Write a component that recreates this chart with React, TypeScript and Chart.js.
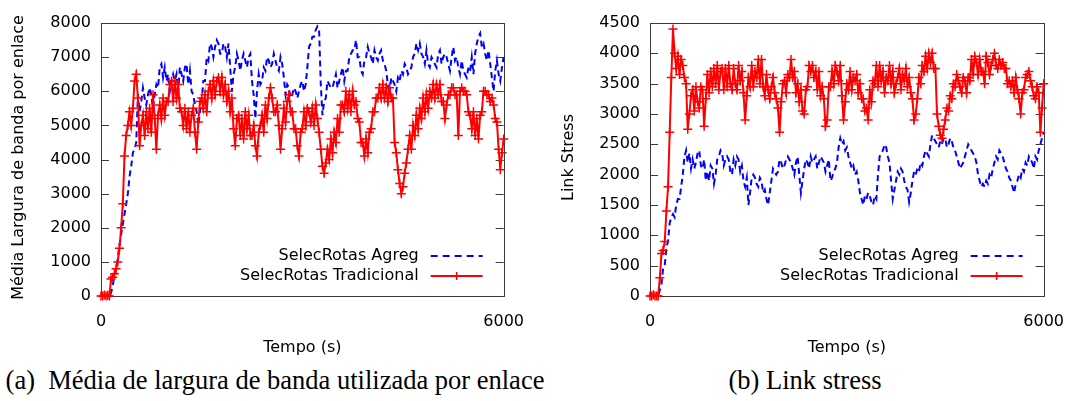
import React, { useEffect, useRef } from 'react';
import { Chart, registerables } from 'chart.js';

Chart.register(...registerables);

// Time axis (s), one sample every 25 s from 0 to 6000
const TIME_S: number[] = Array.from({ length: 241 }, (_, i) => i * 25);

// (a) Média largura de banda por enlace
const BW_AGREG: number[] = [
  0, 0, 0, 0, 0, 0, 100, 300, 600, 800,
  1100, 1500, 1800, 2100, 2400, 2700, 3000, 3500, 3800, 4200,
  4300, 4500, 5900, 5400, 5700, 6100, 5800, 5600, 5900, 6100,
  5900, 5500, 5900, 6200, 6100, 6700, 6800, 6400, 6700, 6300,
  6500, 6000, 6300, 6500, 6300, 6500, 6000, 6700, 6500, 6300,
  6700, 6800, 6200, 6600, 6000, 5900, 5600, 5400, 5000, 5400,
  5700, 6300, 6300, 7000, 6900, 7400, 7300, 7000, 7300, 7500,
  7400, 7100, 7100, 7400, 7300, 7000, 7400, 6700, 6000, 6500,
  6700, 7100, 6900, 6600, 6900, 7100, 6900, 6700, 7000, 7100,
  6300, 5900, 5200, 6000, 6500, 6200, 6300, 6700, 6600, 7000,
  6900, 6700, 6800, 7100, 6900, 6700, 6600, 7000, 6800, 6400,
  5900, 6200, 6100, 5800, 5900, 6100, 6000, 5800, 6000, 6200,
  6300, 6000, 6200, 6700, 7300, 7400, 7600, 7600, 7800, 7900,
  7800, 6200, 5300, 5700, 5800, 6300, 6200, 6100, 6100, 6300,
  6500, 6100, 6300, 6500, 6700, 6300, 6600, 6600, 7000, 7100,
  7200, 7200, 7500, 7000, 7000, 6600, 6500, 6900, 7000, 7300,
  7100, 7000, 6800, 7200, 7000, 6900, 7100, 7200, 6900, 6800,
  6600, 6200, 5900, 6400, 6300, 6200, 6000, 6400, 6300, 6600,
  6500, 6800, 6700, 6500, 6600, 6700, 7000, 7100, 7400, 7200,
  7400, 7100, 7000, 6800, 7200, 6800, 6700, 7000, 6900, 6800,
  6700, 7100, 7200, 6800, 7000, 7100, 7000, 6800, 6600, 7000,
  7300, 6900, 7000, 6700, 6500, 6900, 6600, 6500, 6400, 6700,
  6600, 7000, 6500, 7100, 7400, 7600, 7700, 7300, 7400, 7100,
  6900, 7200, 6800, 6400, 6000, 6600, 6900, 6500, 6300, 6700,
  7000,
];
const BW_TRAD: number[] = [
  0, 0, 30, 0, 20, 0, 500, 550, 650, 800,
  1000, 1400, 2000, 2700, 4100, 4700, 5000, 5400, 5000, 5500,
  6300, 6500, 5800, 4400, 5000, 5300, 4700, 5400, 4900, 5500,
  4800, 5900, 5200, 4300, 5300, 5600, 5200, 5800, 5300, 5700,
  5700, 6200, 6300, 5700, 6300, 5800, 6200, 5500, 5400, 5000,
  5500, 4900, 5400, 4800, 5300, 5500, 4800, 4300, 5100, 5700,
  5800, 5500, 5900, 5400, 6000, 6200, 5800, 6300, 5900, 6300,
  6400, 6000, 6400, 5900, 6200, 5700, 6000, 5400, 5800, 4900,
  4400, 5200, 5300, 4700, 5200, 4600, 5400, 4900, 5300, 4700,
  4700, 5000, 4400, 4100, 4800, 5000, 5300, 4800, 5600, 5200,
  5800, 6100, 5800, 5400, 5400, 5600, 5000, 4300, 4900, 5500,
  5100, 5700, 5900, 5400, 5400, 4900, 4900, 4400, 4100, 4800,
  4900, 5400, 5000, 5500, 5400, 5100, 5500, 5000, 5600, 5200,
  4800, 4300, 3800, 3600, 3900, 4300, 4000, 4600, 4200, 4800,
  4500, 5200, 4800, 5600, 5600, 5400, 6000, 5500, 5900, 5400,
  6000, 5600, 5700, 5200, 5100, 4500, 4500, 4100, 4600, 4200,
  4800, 4900, 5400, 5400, 5800, 5800, 6100, 5800, 6200, 5800,
  6100, 5700, 6100, 5800, 5800, 4500, 4200, 3700, 3300, 3000,
  3200, 3600, 3900, 4300, 4700, 4300, 5000, 4700, 5300, 4900,
  5500, 5200, 5800, 5400, 5900, 5500, 6000, 5800, 6200, 5800,
  6200, 5900, 6200, 5700, 5700, 5200, 5600, 5900, 5900, 6100,
  6100, 5900, 5900, 4700, 6000, 6100, 6000, 6000, 5900, 5400,
  5300, 4900, 5400, 4700, 5200, 4600, 5300, 5400, 6000, 6000,
  5900, 5900, 5700, 5800, 5600, 5200, 5100, 4300, 3700, 4200,
  4600,
];

// (b) Link stress
const LS_AGREG: number[] = [
  0, 0, 0, 0, 0, 0, 100, 200, 450, 500,
  800, 900, 1200, 1300, 1350, 1300, 1500, 1600, 1600, 1800,
  2000, 2300, 2400, 2200, 2350, 2100, 2250, 2100, 2200, 2350,
  2400, 2150, 2100, 2250, 1900, 2050, 1900, 2150, 2100, 1850,
  2000, 2250, 2300, 2400, 2350, 2150, 2250, 2300, 2250, 2050,
  2000, 2250, 2150, 2300, 2250, 2050, 2150, 1900, 1800, 1950,
  1500, 1700, 1950, 2000, 1950, 1850, 1800, 1950, 1900, 1700,
  1750, 1600, 1500, 1700, 1900, 2100, 2050, 2000, 2050, 2250,
  2200, 2100, 2150, 2250, 2300, 2250, 2200, 2100, 2000, 2200,
  2300, 2000, 1700, 1900, 2100, 2250, 2200, 2100, 2300, 2200,
  2250, 2300, 2100, 2200, 2300, 2250, 2200, 2050, 2150, 2250,
  1900, 1950, 2050, 2100, 2200, 2450, 2600, 2500, 2550, 2400,
  2450, 2300, 2200, 2100, 2150, 2000, 2050, 1900, 1700, 1600,
  1500, 1650, 1600, 1700, 1650, 1550, 1500, 1650, 1600, 2000,
  2300, 2350, 2400, 2500, 2450, 2300, 2200, 1900, 1600, 1750,
  1900, 2050, 2000, 2100, 2050, 1900, 1800, 1750, 1550, 1700,
  1900, 2050, 2000, 2100, 2050, 2200, 2150, 2300, 2400, 2350,
  2300, 2500, 2650, 2600, 2550, 2500, 2450, 2550, 2500, 2600,
  2600, 2450, 2500, 2600, 2550, 2450, 2400, 2300, 2200, 2100,
  2150, 2200, 2300, 2400, 2500, 2450, 2400, 2350, 2300, 2200,
  2000, 1900, 1800, 1850, 1800, 1900, 1850, 2000, 1950, 2100,
  2200, 2300, 2250, 2400, 2350, 2300, 2200, 2100, 2050, 1950,
  1900, 1800, 1700, 1850, 1900, 2000, 1950, 2100, 2050, 2200,
  2150, 2300, 2250, 2200, 2100, 2300, 2250, 2400, 2500, 2600,
  2700,
];
const LS_TRAD: number[] = [
  0, 0, 20, 0, 0, 0, 300, 700, 750, 900,
  1400, 1800, 2700, 3600, 4400, 4000, 3750, 3950, 3650, 3900,
  3800, 3600, 3500, 2750, 3000, 3300, 3400, 3050, 3450, 3200,
  3100, 3450, 3400, 2800, 3250, 3650, 3350, 3700, 3450, 3750,
  3500, 3800, 3400, 3700, 3750, 3400, 3750, 3450, 3800, 3500,
  3400, 3750, 3500, 3400, 3800, 3550, 3700, 3350, 2900, 3300,
  3600, 3450, 3800, 3450, 3700, 3600, 3900, 3500, 3900, 3450,
  3300, 3650, 3400, 3250, 3450, 3600, 3350, 3250, 3100, 2700,
  3200, 3500, 3550, 3350, 3650, 3600, 3900, 3600, 3700, 3350,
  3500, 3200, 3400, 3050, 3000, 3400, 3450, 3800, 3700, 3800,
  3600, 3700, 3400, 3700, 3300, 3450, 3250, 2800, 2900, 3450,
  3450, 3700, 3500, 3800, 3700, 3550, 3800, 3300, 2900, 3200,
  3500, 3400, 3700, 3400, 3600, 3550, 3650, 3350, 3500, 3250,
  3250, 3050, 3100, 2900, 3400, 3200, 3550, 3500, 3800, 3450,
  3800, 3550, 3700, 3350, 3600, 3550, 3800, 3500, 3700, 3350,
  3500, 3600, 3750, 3400, 3650, 3550, 3750, 3450, 3600, 3350,
  3250, 2900, 3000, 3250, 3600, 3500, 3800, 3700, 3950, 3750,
  4000, 3850, 4000, 3750, 3750, 3000, 2800, 2650, 2600, 2750,
  2900, 3100, 3050, 3300, 3250, 3500, 3450, 3650, 3550, 3450,
  3350, 3600, 3550, 3350, 3600, 3550, 3900, 3650, 3950, 3850,
  3650, 3900, 3700, 3700, 3500, 3950, 3850, 3650, 3800, 3900,
  4000, 3800, 3750, 3900, 3800, 3850, 3750, 3750, 3500, 3550,
  3450, 3550, 3350, 3600, 3400, 3250, 3000, 3350, 3400, 3600,
  3650, 3700, 3550, 3450, 3300, 3250, 3450, 3350, 2700, 3100,
  3500,
];

const X_TICKS: number[] = [0, 6000];
const SERIES_NAMES: string[] = ['SelecRotas Agreg', 'SelecRotas Tradicional'];

const SANS = '"DejaVu Sans", sans-serif';
const FONT = { family: SANS, size: 16 };
const BLUE = '#0000ff';
const RED = '#ff0000';

const framePlugin = {
  id: 'gnuplotFrame',
  beforeDatasetsDraw(chart: any) {
    const { ctx, chartArea } = chart;
    const { left, right, top, bottom } = chartArea;
    const yScale = chart.scales.y;
    ctx.save();
    ctx.strokeStyle = '#3a3a3a';
    ctx.lineWidth = 1;
    ctx.setLineDash([]);
    ctx.beginPath();
    for (const t of yScale.ticks) {
      const y = Math.round(yScale.getPixelForValue(t.value)) + 0.5;
      ctx.moveTo(left, y);
      ctx.lineTo(left + 8, y);
      ctx.moveTo(right, y);
      ctx.lineTo(right - 8, y);
    }
    ctx.stroke();
    ctx.strokeRect(Math.round(left) + 0.5, Math.round(top) + 0.5, Math.round(right - left), Math.round(bottom - top));
    // y axis title (drawn without width limit, like gnuplot)
    const opts = chart.options.plugins.gnuplotFrame;
    ctx.fillStyle = '#000';
    ctx.font = `16px ${SANS}`;
    ctx.textAlign = 'center';
    ctx.textBaseline = 'middle';
    ctx.translate(opts.titleX, (top + bottom) / 2 - 2);
    ctx.rotate(-Math.PI / 2);
    ctx.fillText(opts.yTitle, 0, 0);
    ctx.restore();
  },
  afterDatasetsDraw(chart: any) {
    const { ctx, chartArea } = chart;
    const { right, bottom } = chartArea;
    ctx.save();
    ctx.font = `16px ${SANS}`;
    ctx.fillStyle = '#000';
    ctx.textAlign = 'right';
    ctx.textBaseline = 'middle';
    const y1 = bottom - 40;
    const y2 = bottom - 20;
    ctx.fillText(SERIES_NAMES[0], right - 85, y1);
    ctx.fillText(SERIES_NAMES[1], right - 85, y2);
    ctx.lineWidth = 2;
    ctx.strokeStyle = BLUE;
    ctx.setLineDash([7, 5]);
    ctx.beginPath();
    ctx.moveTo(right - 73, y1);
    ctx.lineTo(right - 21, y1);
    ctx.stroke();
    ctx.setLineDash([]);
    ctx.strokeStyle = RED;
    ctx.beginPath();
    ctx.moveTo(right - 73, y2);
    ctx.lineTo(right - 21, y2);
    ctx.stroke();
    const cx = right - 47;
    ctx.lineWidth = 1.5;
    ctx.beginPath();
    ctx.moveTo(cx - 4, y2);
    ctx.lineTo(cx + 4, y2);
    ctx.moveTo(cx, y2 - 4);
    ctx.lineTo(cx, y2 + 4);
    ctx.stroke();
    ctx.restore();
  },
};

function makeConfig(
  agreg: number[],
  trad: number[],
  yMax: number,
  yStep: number,
  yTitle: string,
  yAxisWidth: number,
  titleX: number,
  padRight: number
): any {
  return {
    type: 'line',
    data: {
      datasets: [
        {
          label: SERIES_NAMES[1],
          data: TIME_S.map((t, i) => ({ x: t, y: trad[i] })),
          borderColor: RED,
          backgroundColor: RED,
          borderWidth: 2,
          pointStyle: 'cross',
          pointRadius: 4.5,
          pointBorderWidth: 1.5,
          pointBorderColor: RED,
          pointBackgroundColor: RED,
          tension: 0,
          order: 0,
          clip: 8,
        },
        {
          label: SERIES_NAMES[0],
          data: TIME_S.map((t, i) => ({ x: t, y: agreg[i] })),
          borderColor: BLUE,
          backgroundColor: BLUE,
          borderWidth: 2,
          borderDash: [6, 4],
          pointRadius: 0,
          tension: 0,
          order: 1,
          clip: 8,
        },
      ],
    },
    options: {
      animation: false,
      responsive: false,
      devicePixelRatio: 1,
      layout: { padding: { left: 0, top: 23, right: padRight, bottom: 0 } },
      plugins: {
        legend: { display: false },
        tooltip: { enabled: false },
        gnuplotFrame: { yTitle, titleX },
      },
      scales: {
        x: {
          type: 'linear',
          min: 0,
          max: 6000,
          afterFit(s: any) {
            s.height = 64;
          },
          afterBuildTicks(s: any) {
            s.ticks = X_TICKS.map((v) => ({ value: v }));
          },
          ticks: {
            color: '#000',
            font: FONT,
            padding: 16,
            maxRotation: 0,
            autoSkip: false,
            callback: (v: any) => String(v),
          },
          grid: { display: false, drawTicks: false },
          border: { display: false },
          title: {
            display: true,
            text: 'Tempo (s)',
            color: '#000',
            font: FONT,
            padding: { top: 0, bottom: 3 },
          },
        },
        y: {
          type: 'linear',
          min: 0,
          max: yMax,
          afterFit(s: any) {
            s.width = yAxisWidth;
          },
          ticks: {
            stepSize: yStep,
            color: '#000',
            font: FONT,
            padding: 10,
            callback: (v: any) => String(v),
          },
          grid: { display: false, drawTicks: false },
          border: { display: false },
          title: { display: false },
        },
      },
    },
    plugins: [framePlugin],
  };
}

function ChartPanel(props: { config: () => any; left: number }) {
  const ref = useRef<HTMLCanvasElement | null>(null);
  useEffect(() => {
    if (!ref.current) return;
    const chart = new Chart(ref.current, props.config());
    return () => chart.destroy();
  }, []);
  return (
    <div style={{ position: 'absolute', left: props.left, top: 0, width: 540, height: 360 }}>
      <canvas ref={ref} width={540} height={360} style={{ display: 'block' }} />
    </div>
  );
}

const captionStyle: React.CSSProperties = {
  position: 'absolute',
  top: 365,
  fontFamily: '"Liberation Serif", "Times New Roman", serif',
  fontSize: 26.5,
  lineHeight: '30px',
  whiteSpace: 'pre',
  transform: 'translateX(-50%)',
  color: '#000',
};

export default function App() {
  return (
    <div
      style={{
        position: 'fixed',
        left: 0,
        top: 0,
        width: 1080,
        height: 401,
        background: '#fff',
        overflow: 'hidden',
      }}
    >
      <ChartPanel
        left={0}
        config={() =>
          makeConfig(BW_AGREG, BW_TRAD, 8000, 1000, 'Média Largura de banda por enlace', 101, 19, 33)
        }
      />
      <ChartPanel
        left={540}
        config={() => makeConfig(LS_AGREG, LS_TRAD, 4500, 500, 'Link Stress', 110, 29, 24)}
      />
      <div style={{ ...captionStyle, left: 275 }}>{'(a)  Média de largura de banda utilizada por enlace'}</div>
      <div style={{ ...captionStyle, left: 805 }}>{'(b) Link stress'}</div>
    </div>
  );
}
